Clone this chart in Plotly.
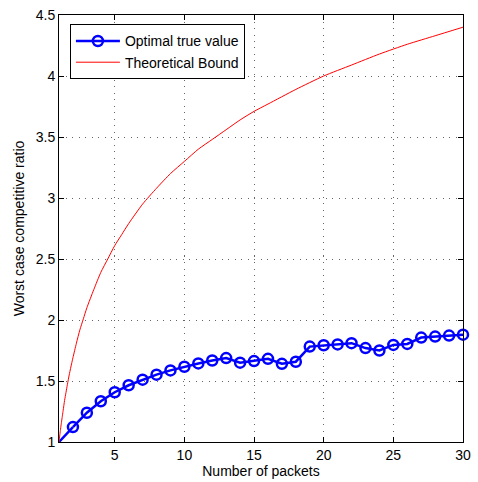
import plotly.graph_objects as go

# Optimal true value (blue)
packets = list(range(1, 31))
optimal = [1.0, 1.122, 1.24, 1.334, 1.408, 1.465, 1.511, 1.552, 1.587, 1.617,
           1.644, 1.668, 1.688, 1.65, 1.663, 1.682, 1.641, 1.658, 1.782, 1.793,
           1.80, 1.81, 1.77, 1.75, 1.796, 1.804, 1.856, 1.864, 1.872, 1.88]

# Theoretical bound (red)
bound_x = [1, 1.05, 1.1, 1.15, 1.2, 1.25, 1.3, 1.4, 1.5, 1.6, 1.75, 1.9, 2, 2.25,
           2.5, 2.75, 3, 3.5, 4, 4.5, 5, 5.5, 6, 7, 8, 9, 10, 11, 12, 13, 14, 15,
           16, 18, 20, 22, 24, 26, 28, 30]
bound_y = [1.0, 1.049, 1.095, 1.14, 1.18, 1.22, 1.26, 1.34, 1.405, 1.47, 1.56,
           1.64, 1.69, 1.81, 1.92, 2.01, 2.10, 2.25, 2.39, 2.50, 2.61, 2.70, 2.79,
           2.95, 3.08, 3.20, 3.30, 3.40, 3.48, 3.56, 3.64, 3.71, 3.77, 3.89, 4.00,
           4.09, 4.18, 4.26, 4.33, 4.40]

x_ticks = [5, 10, 15, 20, 25, 30]
y_ticks = [1, 1.5, 2, 2.5, 3, 3.5, 4, 4.5]
y_labels = ["1", "1.5", "2", "2.5", "3", "3.5", "4", "4.5"]

blue = "#0000ff"
fig = go.Figure()
fig.add_trace(go.Scatter(x=packets[:2], y=optimal[:2], mode="lines",
                         line=dict(color=blue, width=2.5), showlegend=False,
                         cliponaxis=False))
fig.add_trace(go.Scatter(x=packets[1:], y=optimal[1:], mode="lines+markers",
                         name="Optimal true value",
                         line=dict(color=blue, width=2.5),
                         marker=dict(symbol="circle-open", size=10, color=blue,
                                     line=dict(width=2.5, color=blue)),
                         cliponaxis=False))
fig.add_trace(go.Scatter(x=bound_x, y=bound_y, mode="lines", name="Theoretical Bound",
                         line=dict(color="#ff0000", width=1, shape="spline",
                                   smoothing=0.6)))

axis_common = dict(showline=True, linecolor="black", linewidth=1, mirror="ticks",
                   ticks="inside", ticklen=5, tickcolor="black",
                   showgrid=True, gridcolor="rgba(0,0,0,0.6)", gridwidth=1,
                   griddash="1px,5.5px", zeroline=False,
                   tickfont=dict(family="Liberation Sans, Arial", size=14, color="black"))

fig.update_layout(
    width=478, height=482,
    margin=dict(l=59, r=7, t=13, b=39),
    paper_bgcolor="white", plot_bgcolor="white",
    font=dict(family="Liberation Sans, Arial", size=14, color="black"),
    xaxis=dict(range=[1, 30], tickvals=x_ticks,
               title=dict(text="Number of packets", standoff=2,
                          font=dict(size=14)), **axis_common),
    yaxis=dict(range=[1, 4.5], tickvals=y_ticks, ticktext=y_labels,
               title=dict(text="Worst case competitive ratio", standoff=7,
                          font=dict(size=14)), **axis_common),
    legend=dict(x=0.027, y=0.978, xanchor="left", yanchor="top",
                bgcolor="white", bordercolor="black", borderwidth=1,
                font=dict(size=14), tracegroupgap=0, itemwidth=44),
)

fig.write_html("out.html")
